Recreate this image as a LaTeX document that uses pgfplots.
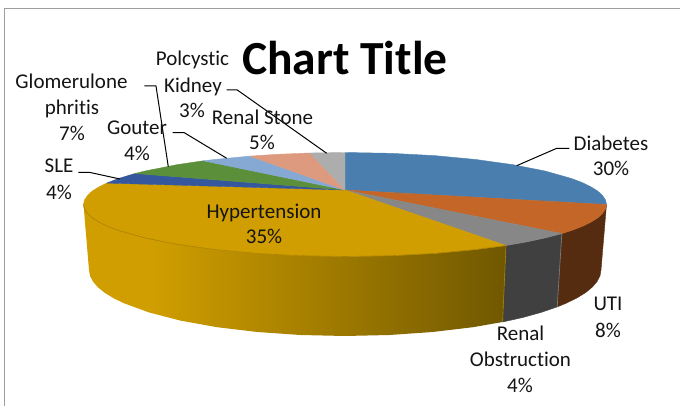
\documentclass[border=0pt]{standalone}
\usepackage{pgfplots}
\pgfplotsset{compat=1.18}
\usepackage{fontspec}
\setmainfont[Ligatures=NoCommon]{Carlito}
\pgfdeclarehorizontalshading{goldside}{100bp}{rgb(0bp)=(0.816,0.62,0); rgb(33bp)=(0.816,0.62,0); rgb(75bp)=(0.44,0.345,0); rgb(100bp)=(0.44,0.345,0)}
\definecolor{cblue}{HTML}{4A7EAE}
\definecolor{corange}{HTML}{C46628}
\definecolor{cutiside}{HTML}{562C10}
\definecolor{cgray}{HTML}{878787}
\definecolor{cgrayside}{HTML}{404040}
\definecolor{cgold}{HTML}{D09E00}
\definecolor{crim}{HTML}{A98000}
\definecolor{csle}{HTML}{34579E}
\definecolor{cgreen}{HTML}{5B8F3A}
\definecolor{clight}{HTML}{85A9D3}
\definecolor{csalmon}{HTML}{DE9A7F}
\definecolor{cstone}{HTML}{ADADAD}
\begin{document}
\begin{tikzpicture}
\begin{axis}[
  scale only axis, width=680pt, height=406pt,
  xmin=0, xmax=680, ymin=0, ymax=406, y dir=reverse,
  hide axis, clip=false, no markers,
  every axis plot/.append style={line width=0.4pt, line join=round}]
% full page extent
\addplot[draw=none] coordinates {(0,0)(680,406)};
% frame
\addplot[color=black!38, line width=1pt] coordinates {(4.5,405.5) (4.5,8.5) (679.5,8.5)};
% side walls
\addplot[fill=cutiside, draw=cutiside] coordinates {(606.5,204.5)(605.5,209)(602.5,213.5)(597.6,218)(590.7,222.3)(582,226.5)(571.5,230.5)(561.8,233.6)(557.2,306.9)(566.7,303)(577,297.9)(585.6,292.6)(592.3,287.1)(597.1,281.5)(600,275.8)(601,270)} --cycle;
\addplot[fill=cgrayside, draw=cgrayside] coordinates {(561.8,233.6)(545.3,237.9)(526.7,241.9)(506,245.5)(502.6,322)(522.8,317.5)(541.1,312.4)(557.2,306.9)} --cycle;
\addplot[shade, shading=goldside, draw=none] coordinates {(506,245.5)(475.8,249.5)(434.4,253.4)(390.4,255.7)(345,256.5)(299.6,255.7)(255.6,253.4)(214.3,249.5)(176.9,244.3)(144.7,237.9)(118.5,230.5)(108,226.5)(99.3,222.3)(92.4,218)(87.5,213.5)(84.5,209)(83.5,204.5)(89,270)(90,275.8)(92.9,281.5)(97.7,287.1)(104.4,292.6)(113,297.9)(123.3,303)(148.9,312.4)(180.4,320.6)(217,327.2)(257.4,332)(300.5,335)(345,336)(389.5,335)(432.6,332)(473,327.2)(502.6,322)} --cycle;
\addplot[color=crim, line width=0.6pt] coordinates {(506,245.5)(502.6,322)};
\addplot[color=black!50, line width=0.6pt] coordinates {(561.8,233.6)(557.2,306.9)};
% top face
\addplot[fill=cblue, draw=cblue] coordinates {(345,190)(345,152.5)(390.4,153.3)(434.4,155.6)(475.8,159.5)(513.1,164.7)(545.3,171.1)(571.5,178.5)(582,182.5)(590.7,186.7)(597.6,191)(602.5,195.5)(605.5,200)(606.5,204.5)} --cycle;
\addplot[fill=corange, draw=corange] coordinates {(345,190)(606.5,204.5)(605.5,209)(602.5,213.5)(597.6,218)(590.7,222.3)(582,226.5)(571.5,230.5)(561.8,233.6)} --cycle;
\addplot[fill=cgray, draw=cgray] coordinates {(345,190)(561.8,233.6)(545.3,237.9)(526.7,241.9)(506,245.5)} --cycle;
\addplot[fill=cgold, draw=cgold] coordinates {(345,190)(506,245.5)(475.8,249.5)(434.4,253.4)(390.4,255.7)(345,256.5)(299.6,255.7)(255.6,253.4)(214.3,249.5)(176.9,244.3)(144.7,237.9)(118.5,230.5)(108,226.5)(99.3,222.3)(92.4,218)(87.5,213.5)(84.5,209)(83.5,204.5)(84.5,200)(87.5,195.5)(92.4,191)(99.3,186.7)(106.7,183.1)} --cycle;
\addplot[fill=csle, draw=csle] coordinates {(345,190)(106.7,183.1)(118.5,178.5)(135,173.5)} --cycle;
\addplot[fill=cgreen, draw=cgreen] coordinates {(345,190)(135,173.5)(144.7,171.1)(176.9,164.7)(203.3,160.8)} --cycle;
\addplot[fill=clight, draw=clight] coordinates {(345,190)(203.3,160.8)(214.3,159.5)(250,156.1)} --cycle;
\addplot[fill=csalmon, draw=csalmon] coordinates {(345,190)(250,156.1)(277.3,154.3)(310,153)} --cycle;
\addplot[fill=cstone, draw=cstone] coordinates {(345,190)(310,153)(345,152.5)} --cycle;
% rim line of hypertension top
\addplot[color=crim, line width=0.6pt] coordinates {(506,245.5)(475.8,249.5)(434.4,253.4)(390.4,255.7)(345,256.5)(299.6,255.7)(255.6,253.4)(214.3,249.5)(176.9,244.3)(144.7,237.9)(118.5,230.5)(108,226.5)(99.3,222.3)(92.4,218)(87.5,213.5)(84.5,209)(83.5,204.5)};
% leader lines
\addplot[color=black, line width=1pt] coordinates {(226.7,90)(237.3,90)(326.7,153.3)};
\addplot[color=black, line width=1pt] coordinates {(144.3,86)(156,86)(168.3,166.7)};
\addplot[color=black, line width=1pt] coordinates {(172.7,132.7)(184.3,132.7)(226.7,158.3)};
\addplot[color=black, line width=1pt] coordinates {(78.3,172.3)(89.3,172.3)(120,179)};
\addplot[color=black, line width=1pt] coordinates {(516.7,165.7)(556.7,148.3)(569.3,148.3)};
% texts
\tikzset{lab/.style={anchor=center, inner sep=0pt, font=\fontsize{21}{25}\selectfont, text=black!92}}
\node[anchor=center, inner sep=0pt, font=\fontsize{47.5}{50}\selectfont\bfseries] at (axis cs:345,58) {Chart Title};
\node[lab] at (axis cs:192.5,60) {Polcystic};
\node[lab] at (axis cs:193,87) {Kidney};
\node[lab] at (axis cs:192,110) {3\%};
\node[lab] at (axis cs:71.5,81) {Glomerulone};
\node[lab] at (axis cs:72,109) {phritis};
\node[lab] at (axis cs:72,133) {7\%};
\node[lab] at (axis cs:137,128) {Gouter};
\node[lab] at (axis cs:137,153) {4\%};
\node[lab] at (axis cs:262.5,117) {Renal Stone};
\node[lab] at (axis cs:262,142) {5\%};
\node[lab] at (axis cs:59,166) {SLE};
\node[lab] at (axis cs:59,192) {4\%};
\node[lab] at (axis cs:611,143) {Diabetes};
\node[lab] at (axis cs:611,168) {30\%};
\node[lab] at (axis cs:608,304) {UTI};
\node[lab] at (axis cs:608,330) {8\%};
\node[lab] at (axis cs:520.5,333) {Renal};
\node[lab] at (axis cs:520.5,359) {Obstruction};
\node[lab] at (axis cs:520,385) {4\%};
\node[lab] at (axis cs:264,212.5) {Hypertension};
\node[lab] at (axis cs:264,236) {35\%};
\end{axis}
\end{tikzpicture}
\end{document}
